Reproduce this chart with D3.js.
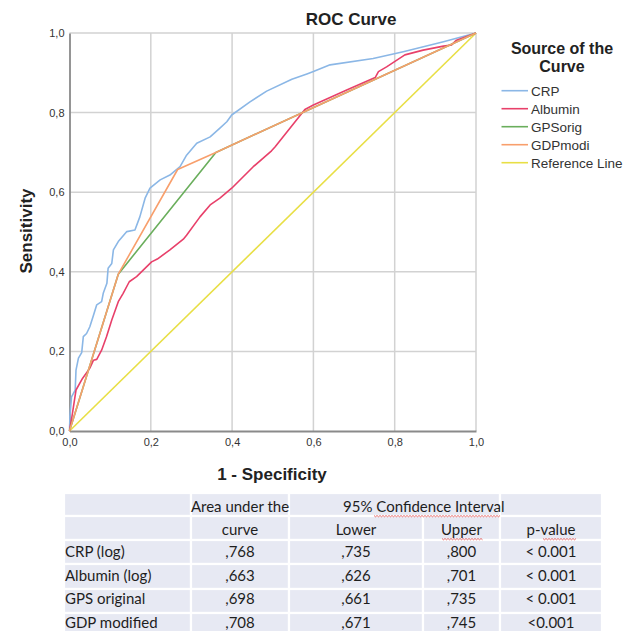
<!DOCTYPE html>
<html>
<head>
<meta charset="utf-8">
<script src="https://cdn.jsdelivr.net/npm/d3@7"></script>
<style>
  body { margin: 0; background: #fff; }
  svg { display: block; }
</style>
</head>
<body>
<svg id="roc" width="633" height="631"></svg>
<script>
// values
const ticks = [0, 0.2, 0.4, 0.6, 0.8, 1.0];
const seriesNames = ["CRP", "Albumin", "GPSorig", "GDPmodi", "Reference Line"];
const seriesColors = ["#8bb7e6", "#e8406a", "#6aae5c", "#f89f6c", "#e8df45"];

const crp = [[0,0],[0.001,0.036],[0.005,0.086],[0.014,0.103],[0.016,0.153],[0.022,0.183],[0.03,0.197],
  [0.034,0.237],[0.042,0.245],[0.05,0.262],[0.059,0.291],[0.067,0.317],[0.079,0.325],[0.083,0.346],
  [0.092,0.371],[0.095,0.409],[0.104,0.421],[0.108,0.455],[0.12,0.476],[0.141,0.501],[0.161,0.505],
  [0.173,0.538],[0.186,0.585],[0.198,0.61],[0.223,0.631],[0.247,0.643],[0.272,0.664],[0.288,0.693],
  [0.313,0.723],[0.346,0.739],[0.37,0.761],[0.387,0.777],[0.399,0.794],[0.444,0.827],[0.485,0.854],
  [0.547,0.884],[0.584,0.897],[0.6,0.903],[0.641,0.92],[0.747,0.936],[0.821,0.953],[0.92,0.978],[1,1]];
const albumin = [[0,0],[0.006,0.036],[0.016,0.103],[0.032,0.132],[0.05,0.158],[0.059,0.178],[0.067,0.18],
  [0.079,0.203],[0.091,0.237],[0.104,0.279],[0.12,0.325],[0.132,0.346],[0.147,0.375],[0.165,0.388],
  [0.202,0.425],[0.216,0.432],[0.247,0.455],[0.28,0.482],[0.288,0.492],[0.321,0.538],[0.346,0.568],
  [0.37,0.585],[0.399,0.61],[0.452,0.664],[0.497,0.704],[0.506,0.714],[0.579,0.808],[0.6,0.819],
  [0.682,0.857],[0.752,0.888],[0.76,0.903],[0.78,0.915],[0.825,0.945],[0.87,0.957],[0.92,0.967],
  [0.94,0.97],[0.952,0.982],[1,1]];
const gpsOrig = [[0,0],[0.12,0.394],[0.36,0.70],[1,1]];
const gdpModi = [[0,0],[0.12,0.394],[0.266,0.657],[0.36,0.70],[1,1]];
const refLine = [[0,0],[1,1]];

// table
const rowLabels = ["CRP (log)", "Albumin (log)", "GPS original", "GDP modified"];
const aucValues = [0.768, 0.663, 0.698, 0.708];
const lowerValues = [0.735, 0.626, 0.661, 0.671];
const upperValues = [0.800, 0.701, 0.735, 0.745];
const pValues = ["< 0.001", "< 0.001", "< 0.001", "<0.001"];

const svg = d3.select("svg#roc");
const margin = {left: 69.5, top: 33, right: 476, bottom: 431};
const axisFont = "'Liberation Sans', Arial, sans-serif";
const tableFont = "Lato, 'Open Sans', sans-serif";

const x = d3.scaleLinear().domain([0, 1]).range([margin.left, margin.right]);
const y = d3.scaleLinear().domain([0, 1]).range([margin.bottom, margin.top]);
const comma = v => d3.format(".1f")(v).replace(".", ",");

// grid
const grid = svg.append("g").attr("stroke", "#d2d2d2").attr("stroke-width", 1.5);
grid.selectAll("line.v").data(ticks.slice(1)).enter().append("line")
  .attr("x1", d => x(d)).attr("x2", d => x(d))
  .attr("y1", y(0)).attr("y2", y(1));
grid.selectAll("line.h").data(ticks.slice(1)).enter().append("line")
  .attr("y1", d => y(d)).attr("y2", d => y(d))
  .attr("x1", x(0)).attr("x2", x(1));

// axes
const xAxis = svg.append("g")
  .attr("transform", `translate(0,${y(0)})`)
  .call(d3.axisBottom(x).tickValues(ticks).tickFormat(comma).tickSize(0).tickPadding(7));
const yAxis = svg.append("g")
  .attr("transform", `translate(${x(0)},0)`)
  .call(d3.axisLeft(y).tickValues(ticks).tickFormat(comma).tickSize(0).tickPadding(5));
[xAxis, yAxis].forEach(a => {
  a.select(".domain").attr("stroke", "#8a8a8a").attr("stroke-width", 1.8);
  a.selectAll("text").attr("font-family", axisFont).attr("font-size", 11).attr("fill", "#333");
});

// curves
const line = d3.line().x(d => x(d[0])).y(d => y(d[1]));
const curves = [refLine, crp, albumin, gpsOrig, gdpModi];
const curveColors = [seriesColors[4], seriesColors[0], seriesColors[1], seriesColors[2], seriesColors[3]];
svg.append("g").selectAll("path").data(curves).enter().append("path")
  .attr("d", line)
  .attr("fill", "none")
  .attr("stroke", (d, i) => curveColors[i])
  .attr("stroke-width", 1.6)
  .attr("stroke-linejoin", "round");

// titles
svg.append("text").attr("x", 351).attr("y", 25).attr("text-anchor", "middle")
  .attr("font-family", axisFont).attr("font-weight", "bold").attr("font-size", 17)
  .attr("fill", "#222").text("ROC Curve");
svg.append("text").attr("x", 272).attr("y", 480).attr("text-anchor", "middle")
  .attr("font-family", axisFont).attr("font-weight", "bold").attr("font-size", 17)
  .attr("fill", "#222").text("1 - Specificity");
svg.append("text").attr("transform", "translate(31.5,231) rotate(-90)").attr("text-anchor", "middle")
  .attr("font-family", axisFont).attr("font-weight", "bold").attr("font-size", 17)
  .attr("fill", "#222").text("Sensitivity");

// legend
const legend = svg.append("g");
legend.selectAll("text.title").data(["Source of the", "Curve"]).enter().append("text")
  .attr("x", 562).attr("y", (d, i) => 54 + i * 18).attr("text-anchor", "middle")
  .attr("font-family", axisFont).attr("font-weight", "bold").attr("font-size", 16)
  .attr("fill", "#222").text(d => d);
const items = legend.selectAll("g.item").data(seriesNames).enter().append("g")
  .attr("transform", (d, i) => `translate(0,${90.7 + i * 18})`);
items.append("line").attr("x1", 501.5).attr("x2", 528).attr("stroke", (d, i) => seriesColors[i])
  .attr("stroke-width", 1.6);
items.append("text").attr("x", 531).attr("dy", "0.36em")
  .attr("font-family", axisFont).attr("font-size", 13.5).attr("fill", "#333").text(d => d);

// table
const colEdges = [64, 191, 289, 423, 500, 602];
const rowEdges = [493, 516, 540, 564, 589, 613, 637];
const table = svg.append("g");
const cells = [];
// header row 1: merged CI cell
cells.push([0, 0, 1, 1], [1, 0, 2, 1], [2, 0, 4, 1], [4, 0, 5, 1]);
for (let r = 1; r < 6; r++) for (let c = 0; c < 5; c++) cells.push([c, r, c + 1, r + 1]);
table.selectAll("rect").data(cells).enter().append("rect")
  .attr("x", d => colEdges[d[0]]).attr("y", d => rowEdges[d[1]])
  .attr("width", d => colEdges[d[2]] - colEdges[d[0]]).attr("height", d => rowEdges[d[3]] - rowEdges[d[1]])
  .attr("fill", "#e7e9f3").attr("stroke", "#fff").attr("stroke-width", 2.2);

const colMid = i => (colEdges[i] + colEdges[i + 1]) / 2;
const fmt3 = v => d3.format(".3f")(v).replace(/^0\./, ",");
const tText = (tx, ty, s, anchor) => table.append("text").attr("x", tx).attr("y", ty)
  .attr("text-anchor", anchor || "middle").attr("font-family", tableFont).attr("font-size", 15)
  .attr("fill", "#1e1e1e").text(s);

tText(colMid(1), 512, "Area under the");
tText(343, 512, "95% Confidence Interval", "start");
tText(colMid(1), 535, "curve");
tText(colMid(2), 535, "Lower");
tText(colMid(3), 535, "Upper");
tText(colMid(4), 535, "p-value");

const baselines = [557, 581, 604, 628];
rowLabels.forEach((lab, i) => {
  tText(65, baselines[i], lab, "start");
  tText(colMid(1), baselines[i], fmt3(aucValues[i]));
  tText(colMid(2), baselines[i], fmt3(lowerValues[i]));
  tText(colMid(3), baselines[i], fmt3(upperValues[i]));
  tText(colMid(4), baselines[i], pValues[i]);
});

// spell-check squiggles
const squiggle = (x0, x1, yy) => {
  let p = `M${x0},${yy}`;
  for (let xx = x0, k = 0; xx < x1; xx += 1.5, k++) p += `L${xx + 1.5},${yy + (k % 2 ? 0 : 1.3)}`;
  table.append("path").attr("d", p).attr("fill", "none").attr("stroke", "#e04848").attr("stroke-width", 0.8);
};
squiggle(374, 500, 515.5);
squiggle(442, 482, 538.5);
squiggle(543, 575, 538.5);
</script>
</body>
</html>
